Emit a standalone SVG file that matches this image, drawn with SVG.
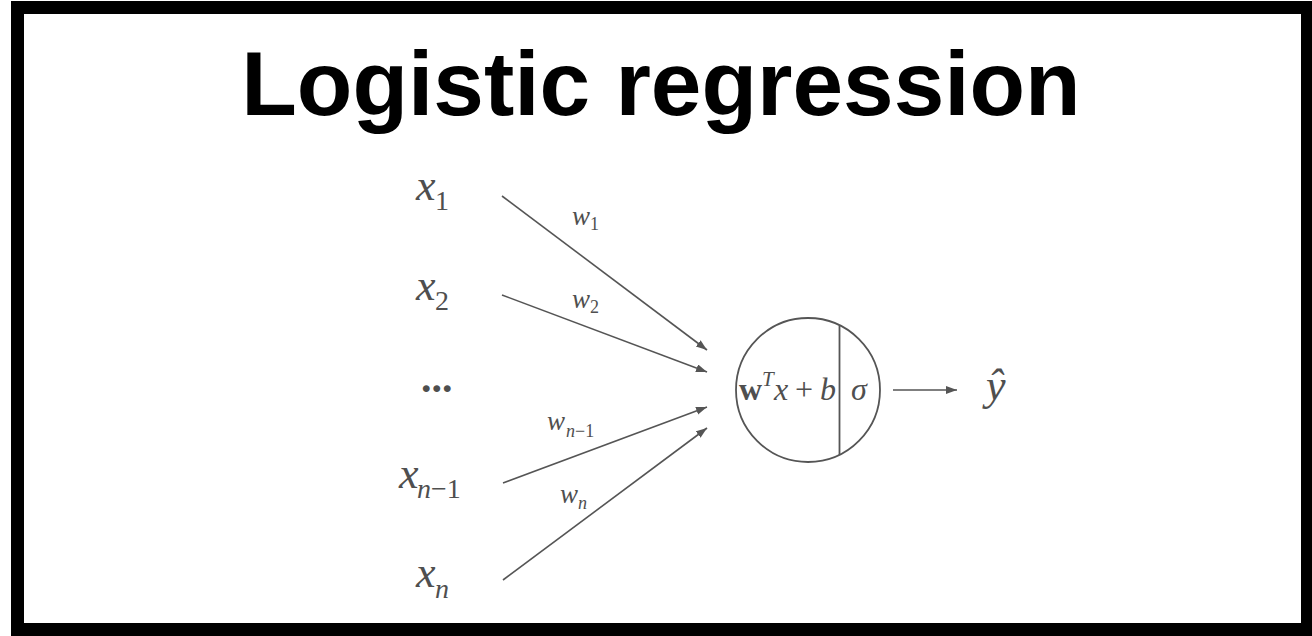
<svg xmlns="http://www.w3.org/2000/svg" width="1312" height="636" viewBox="0 0 1312 636">
<style>
.m{font-family:'Liberation Serif','DejaVu Serif',serif;fill:#4f4f4f}
.i{font-style:italic}
.conn{stroke:#555;stroke-width:1.6;fill:none}
</style>
<defs>
<marker id="ah" markerUnits="userSpaceOnUse" markerWidth="12" markerHeight="10" refX="11" refY="4" orient="auto">
<path d="M0,0 L11,4 L0,8 Z" fill="#555"/>
</marker>
</defs>
<rect x="0" y="0" width="1312" height="636" fill="#fff"/>
<rect x="17.5" y="7.5" width="1290" height="622" fill="none" stroke="#000" stroke-width="13"/>
<text x="661" y="115" text-anchor="middle" font-family="Liberation Sans, Arial, sans-serif" font-weight="bold" font-size="91" fill="#000">Logistic regression</text>

<g font-family="Liberation Serif, DejaVu Serif, serif">
<g id="x1"><text class="m"><tspan class="i" x="416" y="200" font-size="44">x</tspan><tspan x="435" y="210" font-size="28">1</tspan></text></g>
<g id="x2"><text class="m"><tspan class="i" x="416" y="300" font-size="44">x</tspan><tspan x="435" y="310" font-size="28">2</tspan></text></g>
<g id="dots"><text class="m" x="421" y="392" font-size="42" font-weight="bold">...</text></g>
<g id="xn1"><text class="m"><tspan class="i" x="399" y="488" font-size="44">x</tspan><tspan class="i" x="417" y="498" font-size="28">n</tspan><tspan font-size="28">−1</tspan></text></g>
<g id="xn"><text class="m"><tspan class="i" x="416" y="587" font-size="44">x</tspan><tspan class="i" x="435" y="598" font-size="28">n</tspan></text></g>

<g id="connectors">
<line class="conn" x1="502" y1="196" x2="707" y2="350" marker-end="url(#ah)"/>
<line class="conn" x1="502" y1="295" x2="707" y2="372" marker-end="url(#ah)"/>
<line class="conn" x1="503" y1="483" x2="707" y2="407" marker-end="url(#ah)"/>
<line class="conn" x1="503" y1="580" x2="707" y2="428" marker-end="url(#ah)"/>
<line class="conn" x1="893" y1="390" x2="957" y2="390" marker-end="url(#ah)"/>
</g>

<g id="weights">
<text class="m"><tspan class="i" x="572" y="225" font-size="27">w</tspan><tspan x="590" y="230" font-size="18">1</tspan></text>
<text class="m"><tspan class="i" x="572" y="308" font-size="27">w</tspan><tspan x="590" y="313" font-size="18">2</tspan></text>
<text class="m"><tspan class="i" x="547" y="430" font-size="27">w</tspan><tspan class="i" x="566" y="437" font-size="18">n</tspan><tspan font-size="18">−1</tspan></text>
<text class="m"><tspan class="i" x="560" y="503" font-size="27">w</tspan><tspan class="i" x="578" y="509" font-size="18">n</tspan></text>
</g>

<g id="neuron">
<circle cx="808" cy="390" r="72" fill="none" stroke="#555" stroke-width="1.8"/>
<line x1="839.5" y1="325.5" x2="839.5" y2="455" stroke="#555" stroke-width="1.8"/>
<text class="m"><tspan x="739" y="400" font-size="32" font-weight="bold">w</tspan><tspan class="i" x="762" y="386" font-size="21">T</tspan><tspan class="i" x="774" y="400" font-size="32">x</tspan><tspan x="795" y="400" font-size="32">+</tspan><tspan class="i" x="820" y="400" font-size="32">b</tspan></text>
<text class="m i" x="851" y="400" font-size="32">σ</text>
</g>

<g id="yhat"><text class="m i" x="986" y="400" font-size="44">ŷ</text></g>
</g>
</svg>
